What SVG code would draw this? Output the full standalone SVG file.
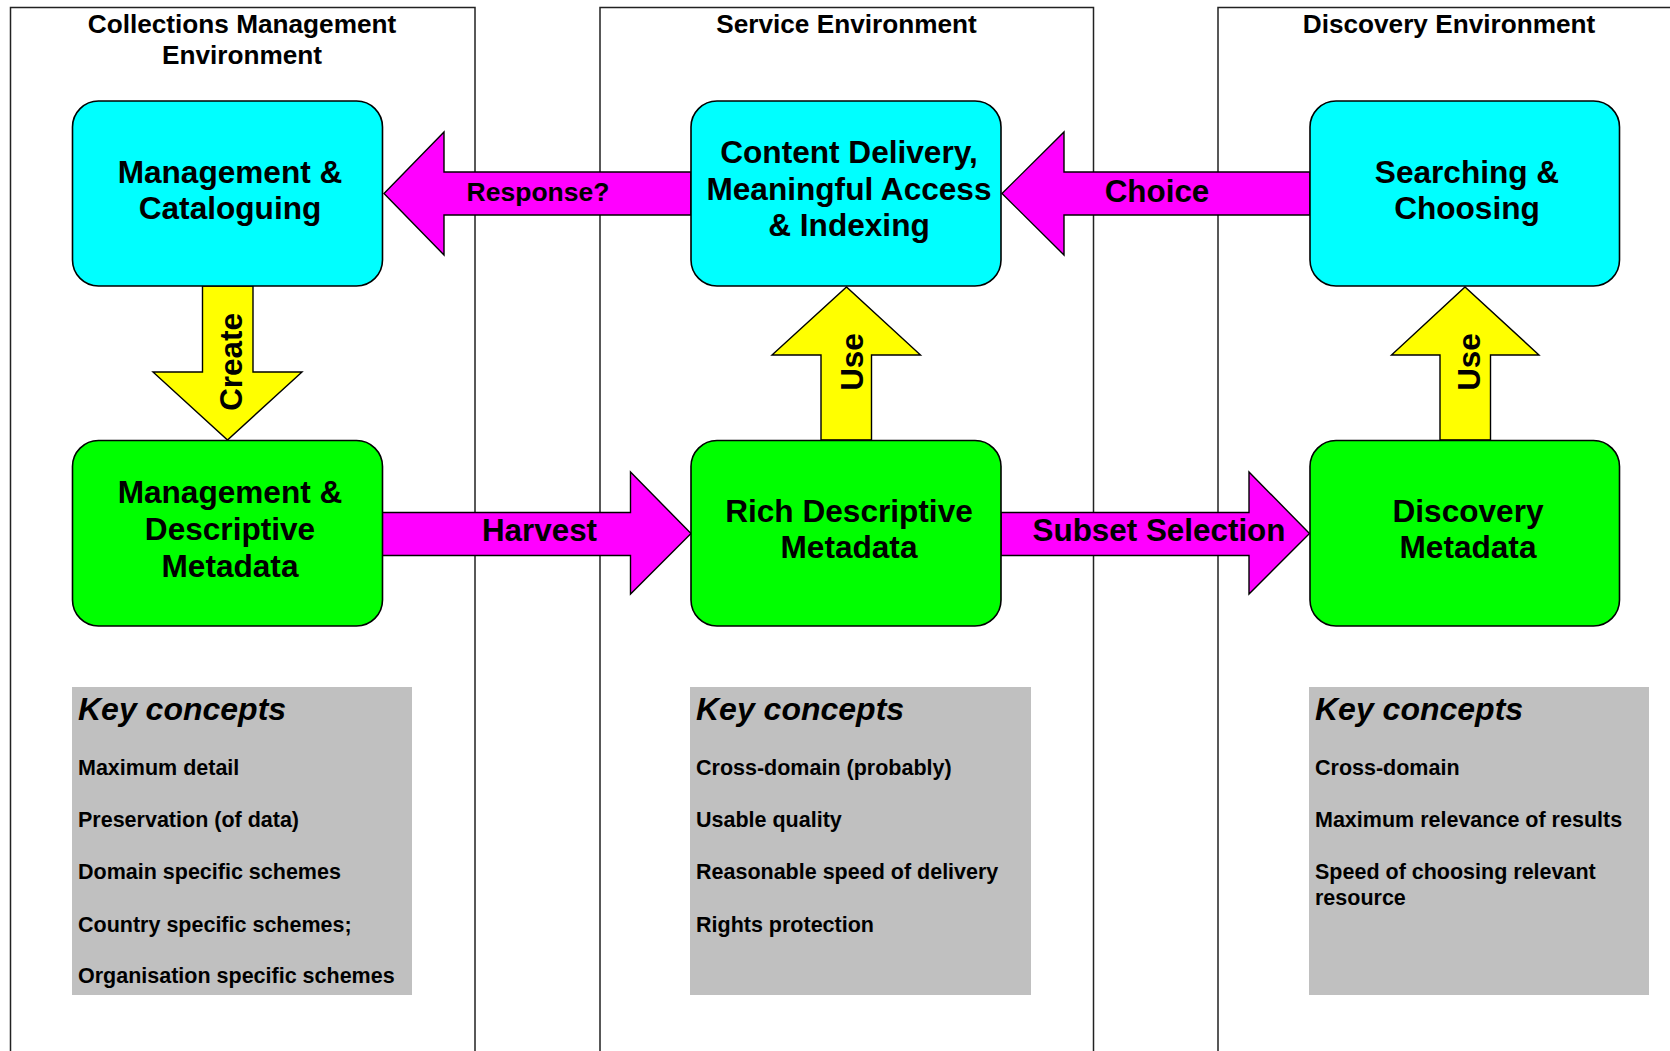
<svg xmlns="http://www.w3.org/2000/svg" width="1670" height="1051" viewBox="0 0 1670 1051">
<style>
text{font-family:"Liberation Sans",Arial,sans-serif;font-weight:bold;fill:#000}
.title{font-size:26.2px;text-anchor:middle}
.node{font-size:31.6px;text-anchor:middle}
.lbl{font-size:31.4px;text-anchor:middle}
.small{font-size:26.5px;text-anchor:middle}
.kc{font-size:32px;font-style:italic}
.item{font-size:21.5px}
.panel{fill:none;stroke:#222;stroke-width:1.5}
.cyan{fill:#00FFFF;stroke:#000;stroke-width:1.6}
.green{fill:#00FF00;stroke:#000;stroke-width:1.6}
.mag{fill:#FF00FF;stroke:#000;stroke-width:1.4}
.yel{fill:#FFFF00;stroke:#000;stroke-width:1.4}
.gray{fill:#C0C0C0}
</style>
<rect width="1670" height="1051" fill="#fff"/>
<g id="panels">
<rect class="panel" x="10.5" y="7.5" width="464.5" height="1100"/>
<rect class="panel" x="600" y="7.5" width="493.5" height="1100"/>
<rect class="panel" x="1218" y="7.5" width="500" height="1100"/>
<text class="title" x="242" y="33">Collections Management</text>
<text class="title" x="242" y="64">Environment</text>
<text class="title" x="846.5" y="33">Service Environment</text>
<text class="title" x="1449" y="33">Discovery Environment</text>
</g>
<g id="connectors">
<g id="response">
<polygon class="mag" points="691,172 444,172 444,132 384,193.5 444,255 444,215 691,215"/>
<text class="small" x="538" y="201">Response?</text>
</g>
<g id="choice">
<polygon class="mag" points="1310,172 1064,172 1064,132 1002,193.5 1064,255 1064,215 1310,215"/>
<text class="lbl" x="1157" y="202">Choice</text>
</g>
<g id="harvest">
<polygon class="mag" points="382,512.5 630.5,512.5 630.5,472 691,533.5 630.5,594 630.5,555.5 382,555.5"/>
<text class="lbl" x="539.5" y="541">Harvest</text>
</g>
<g id="subset">
<polygon class="mag" points="1001,512.5 1249,512.5 1249,472 1309.5,533.5 1249,594 1249,555.5 1001,555.5"/>
<text class="lbl" x="1159" y="541">Subset Selection</text>
</g>
<g id="create">
<polygon class="yel" points="202.5,286 253,286 253,372 302,372 227.5,440 153,372 202.5,372"/>
<text class="lbl" transform="translate(242,362) rotate(-90)">Create</text>
</g>
<g id="use1">
<polygon class="yel" points="821,440 871.5,440 871.5,355 920.5,355 846.5,287 772,355 821,355"/>
<text class="lbl" transform="translate(863,362) rotate(-90)">Use</text>
</g>
<g id="use2">
<polygon class="yel" points="1440,440 1490.5,440 1490.5,355 1539,355 1465,287 1391.5,355 1440,355"/>
<text class="lbl" transform="translate(1480,362) rotate(-90)">Use</text>
</g>
</g>
<g id="node-mgmt-cat">
<rect class="cyan" x="72.5" y="101" width="310" height="185" rx="26"/>
<text class="node" x="230" y="183">Management &amp;</text>
<text class="node" x="230" y="219">Cataloguing</text>
</g>
<g id="node-content">
<rect class="cyan" x="691" y="101" width="310" height="185" rx="26"/>
<text class="node" x="849" y="163">Content Delivery,</text>
<text class="node" x="849" y="200">Meaningful Access</text>
<text class="node" x="849" y="236">&amp; Indexing</text>
</g>
<g id="node-search">
<rect class="cyan" x="1310" y="101" width="309.5" height="185" rx="26"/>
<text class="node" x="1467" y="183">Searching &amp;</text>
<text class="node" x="1467" y="219">Choosing</text>
</g>
<g id="node-mgmt-desc">
<rect class="green" x="72.5" y="440.5" width="310" height="185.5" rx="26"/>
<text class="node" x="230" y="503">Management &amp;</text>
<text class="node" x="230" y="540">Descriptive</text>
<text class="node" x="230" y="577">Metadata</text>
</g>
<g id="node-rich">
<rect class="green" x="691" y="440.5" width="310" height="185.5" rx="26"/>
<text class="node" x="849" y="522">Rich Descriptive</text>
<text class="node" x="849" y="558">Metadata</text>
</g>
<g id="node-discovery">
<rect class="green" x="1310" y="440.5" width="309.5" height="185.5" rx="26"/>
<text class="node" x="1468" y="522">Discovery</text>
<text class="node" x="1468" y="558">Metadata</text>
</g>
<g id="key1">
<rect class="gray" x="72" y="687" width="340" height="308"/>
<text class="kc" x="78" y="720">Key concepts</text>
<text class="item" x="78" y="775">Maximum detail</text>
<text class="item" x="78" y="827">Preservation (of data)</text>
<text class="item" x="78" y="879">Domain specific schemes</text>
<text class="item" x="78" y="932">Country specific schemes;</text>
<text class="item" x="78" y="983">Organisation specific schemes</text>
</g>
<g id="key2">
<rect class="gray" x="690" y="687" width="341" height="308"/>
<text class="kc" x="696" y="720">Key concepts</text>
<text class="item" x="696" y="775">Cross-domain (probably)</text>
<text class="item" x="696" y="827">Usable quality</text>
<text class="item" x="696" y="879">Reasonable speed of delivery</text>
<text class="item" x="696" y="932">Rights protection</text>
</g>
<g id="key3">
<rect class="gray" x="1309" y="687" width="340" height="308"/>
<text class="kc" x="1315" y="720">Key concepts</text>
<text class="item" x="1315" y="775">Cross-domain</text>
<text class="item" x="1315" y="827">Maximum relevance of results</text>
<text class="item" x="1315" y="879">Speed of choosing relevant</text>
<text class="item" x="1315" y="905">resource</text>
</g>
</svg>
